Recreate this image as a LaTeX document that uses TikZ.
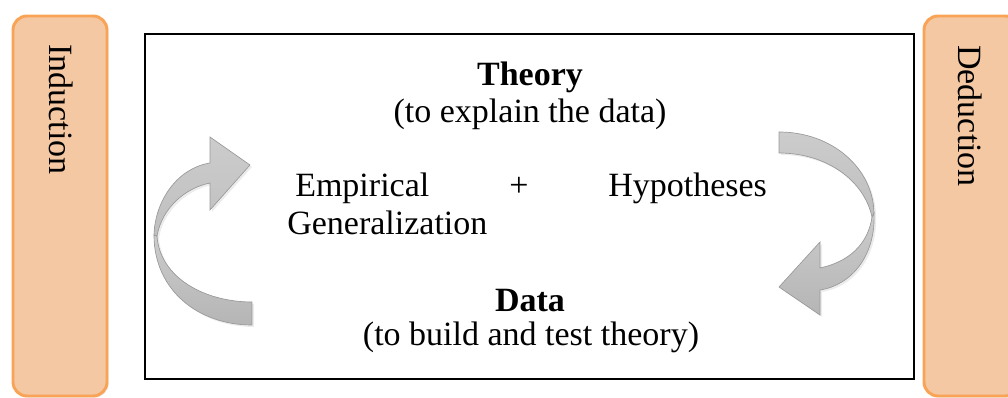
\documentclass[tikz,border=0pt]{standalone}
\usepackage{fontspec}
\setmainfont{Liberation Serif}
\usetikzlibrary{shadows}
\definecolor{barfill}{HTML}{F4C8A3}
\definecolor{barline}{HTML}{F8A356}
\definecolor{arrline}{HTML}{999999}
\begin{document}
\begin{tikzpicture}[x=0.75pt,y=-0.75pt,
  bar/.style={draw=barline, line width=2.2pt, fill=barfill, rounded corners=10.5pt,
    drop shadow={opacity=0.18, shadow xshift=1.2pt, shadow yshift=-1.2pt}},
  txt/.style={inner sep=0pt, font=\fontsize{25.5}{28}\selectfont},
  sidetxt/.style={txt, rotate=-90, anchor=base west},
  frame/.style={draw=black, line width=1.2pt},
  upface/.style={draw=arrline, line width=0.5pt, top color=gray!40, bottom color=gray!50,
    drop shadow={opacity=0.15, shadow xshift=1.5pt, shadow yshift=-1.5pt}},
  lowface/.style={draw=arrline, line width=0.5pt, top color=gray!40, bottom color=gray!58,
    drop shadow={opacity=0.15, shadow xshift=1.5pt, shadow yshift=-1.5pt}}
]
\clip (0,0) rectangle (1008,398);

% side bars
\draw[bar] (13,16) rectangle (107,396);
\draw[bar] (924,16) rectangle (1019,396);
\node[sidetxt] (induction) at (50,44) {Induction};
\node[sidetxt] (deduction) at (958,45) {Deduction};

% central frame
\draw[frame] (145,34) rectangle (914,379);

% left curved arrow (lower band, then upper band with head)
\path[lowface] (154,235) .. controls (154,290) and (198,325) .. (252,325)
  -- (252,302) .. controls (205,302) and (160,278) .. (157,236) -- cycle;
\path[upface] (154,235) .. controls (155,200) and (178,168) .. (210,163)
  -- (210,137) -- (250,165) -- (210,210) -- (210,183)
  .. controls (185,188) and (162,208) .. (157,236) -- cycle;

% right curved arrow (upper band, then lower band with head)
\path[upface] (779,132) .. controls (832,132) and (873,168) .. (874,213)
  -- (872,217) .. controls (864,180) and (826,153) .. (779,153) -- cycle;
\path[lowface] (874,213) .. controls (876,255) and (852,285) .. (820,290)
  -- (820,315) -- (779,287) -- (820,242) -- (820,268)
  .. controls (848,262) and (868,245) .. (872,217) -- cycle;

% texts
\node[txt, anchor=base] (theory) at (530,86) {\textbf{Theory}};
\node[txt, anchor=base] (theorysub) at (530,123) {(to explain the data)};
\node[txt, anchor=base west] (empirical) at (295,197) {Empirical};
\node[txt, anchor=base west] (general) at (287,235) {Generalization};
\node[txt, anchor=base] (plus) at (519,197) {+};
\node[txt, anchor=base west] (hypo) at (608,197) {Hypotheses};
\node[txt, anchor=base] (data) at (530,312) {\textbf{Data}};
\node[txt, anchor=base] (datasub) at (531,346) {(to build and test theory)};
\end{tikzpicture}
\end{document}
